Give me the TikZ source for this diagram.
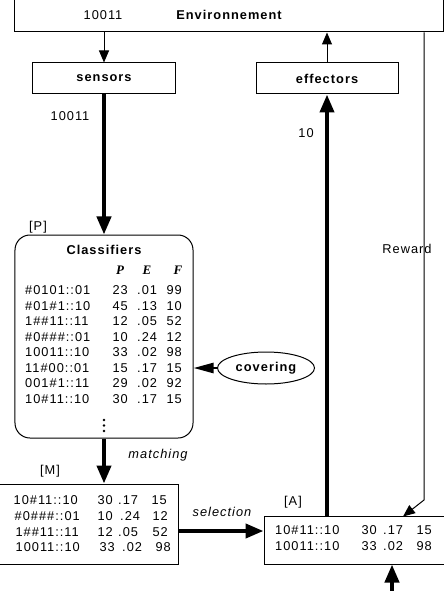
\documentclass[tikz,border=0pt]{standalone}
\usepackage{fontspec}
\setmainfont{Liberation Sans}[LetterSpace=8]
\newfontfamily\hdrfont{Liberation Serif}
\usetikzlibrary{arrows.meta,shapes.geometric}
\tikzset{
  box/.style={draw,line width=1bp,rectangle,inner sep=0pt},
  txt/.style={inner sep=0pt,text height=9.2bp,text depth=0pt,font=\fontsize{12.8bp}{15bp}\selectfont},
  btxt/.style={txt,font=\fontsize{12.8bp}{15bp}\selectfont\bfseries},
  itxt/.style={txt,font=\fontsize{12.8bp}{15bp}\selectfont\itshape},
  hdr/.style={inner sep=0pt,font=\fontsize{13bp}{15bp}\hdrfont\bfseries\itshape},
  thin arrow/.style={line width=1bp,-{Triangle[length=12bp,width=10bp]}},
  thick arrow/.style={line width=4bp,-{Triangle[length=18bp,width=14bp]}},
  cov arrow/.style={line width=2.5bp,-{Triangle[length=20bp,width=10bp]}},
}
\begin{document}
\begin{tikzpicture}[x=1bp,y=-1bp]
\useasboundingbox (0,0) rectangle (444,591);
% boxes
\node[box,minimum width=428bp,minimum height=34bp,font=\fontsize{12.8bp}{15bp}\selectfont\bfseries] (env) at (229,15) {Environnement};
\node[box,minimum width=142bp,minimum height=31bp,font=\fontsize{12.8bp}{15bp}\selectfont\bfseries] (sensors) at (104,78.5) {sensors};
\node[box,minimum width=142bp,minimum height=31bp,font=\fontsize{12.8bp}{15bp}\selectfont\bfseries] (effectors) at (327,78.5) {effectors};
\node[box,rounded corners=15bp,minimum width=178bp,minimum height=203bp] (classifiers) at (104,336.5) {};
\node[draw,line width=1bp,ellipse,minimum width=97bp,minimum height=32bp,inner sep=0pt,font=\fontsize{12.8bp}{15bp}\selectfont\bfseries] (covering) at (266,368) {covering};
\node[box,minimum width=180bp,minimum height=80bp] (M) at (88,524) {};
\node[box,minimum width=181bp,minimum height=48bp] (A) at (354.5,540) {};
% labels
\node[txt] (lenv) at (103,15) {10011};
\node[txt] (lsens) at (70,116) {10011};
\node[txt] (lten) at (306,133) {10};
\node[txt] (lrew) at (407,249) {Reward};
\node[inner sep=0pt,font=\fontsize{12.8bp}{15bp}\selectfont] (lP) at (38,227) {[P]};
\node[inner sep=0pt,font=\fontsize{12.8bp}{15bp}\selectfont] (lM) at (50,471) {[M]};
\node[inner sep=0pt,font=\fontsize{12.8bp}{15bp}\selectfont] (lA) at (293,502) {[A]};
\node[itxt] (lmatch) at (158,454) {matching};
\node[itxt] (lsel) at (222,512) {selection};
% classifiers content
\node[btxt] (ctitle) at (104,250) {Classifiers};
\node[hdr] (hP) at (120,270) {P};
\node[hdr] (hE) at (147,270) {E};
\node[hdr] (hF) at (178,270) {F};
\foreach \c/\p/\e/\f/\y [count=\i] in {
  {\#0101::01}/23/.01/99/290,
  {\#01\#1::10}/45/.13/10/305.5,
  {1\#\#11::11}/12/.05/52/321,
  {\#0\#\#\#::01}/10/.24/12/336.5,
  {10011::10}/33/.02/98/352,
  {11\#00::01}/15/.17/15/367.5,
  {001\#1::11}/29/.02/92/383,
  {10\#11::10}/30/.17/15/398.5}{
  \node[txt,anchor=west] (cr\i-c) at (25,\y) {\c};
  \node[txt,anchor=east] (cr\i-p) at (128,\y) {\p};
  \node[txt,anchor=west] (cr\i-e) at (137,\y) {\e};
  \node[txt,anchor=east] (cr\i-f) at (182,\y) {\f};
}
\foreach \yy in {420,425.5,431}{\fill (104,\yy) circle (1.4bp);}
% M content
\foreach \c/\cx/\p/\px/\e/\ex/\f/\fx/\y [count=\i] in {
  {10\#11::10}/78/30/113/.17/118/15/167/500,
  {\#0\#\#\#::01}/80/10/113/.24/120/12/168/515.5,
  {1\#\#11::11}/79/12/113/.05/118/52/168/531.5,
  {10011::10}/80/33/115/.02/122/98/171/547}{
  \node[txt,anchor=east] (mr\i-c) at (\cx,\y) {\c};
  \node[txt,anchor=east] (mr\i-p) at (\px,\y) {\p};
  \node[txt,anchor=west] (mr\i-e) at (\ex,\y) {\e};
  \node[txt,anchor=east] (mr\i-f) at (\fx,\y) {\f};
}
% A content
\foreach \c/\p/\e/\f/\y [count=\i] in {
  {10\#11::10}/30/.17/15/530,
  {10011::10}/33/.02/98/545.5}{
  \node[txt,anchor=west] (ar\i-c) at (275,\y) {\c};
  \node[txt,anchor=east] (ar\i-p) at (377,\y) {\p};
  \node[txt,anchor=west] (ar\i-e) at (383,\y) {\e};
  \node[txt,anchor=east] (ar\i-f) at (432,\y) {\f};
}
% connectors
\draw[thin arrow] (sensors.north |- env.south) -- (sensors.north);
\draw[thin arrow] (effectors.north) -- (effectors.north |- env.south);
\draw[thick arrow] (sensors.south) -- (sensors.south |- classifiers.north);
\draw[thick arrow] (classifiers.south) -- (classifiers.south |- M.north);
\draw[thick arrow] ([yshift=-7bp]M.east) -- ([yshift=-7bp]M.east -| A.west);
\draw[thick arrow] (effectors.south |- A.north) -- (effectors.south);
\draw[cov arrow] (covering.west) -- (covering.west -| classifiers.east);
\coordinate (rx) at (424,0);
\coordinate (rbend) at (424,500);
\coordinate (rend) at (403,516.5);
\draw[thin arrow] (rx |- env.south) -- (rbend) -- (rend);
\coordinate (bin) at (392,600);
\draw[thick arrow] (bin) -- (bin |- A.south);
\end{tikzpicture}
\end{document}
